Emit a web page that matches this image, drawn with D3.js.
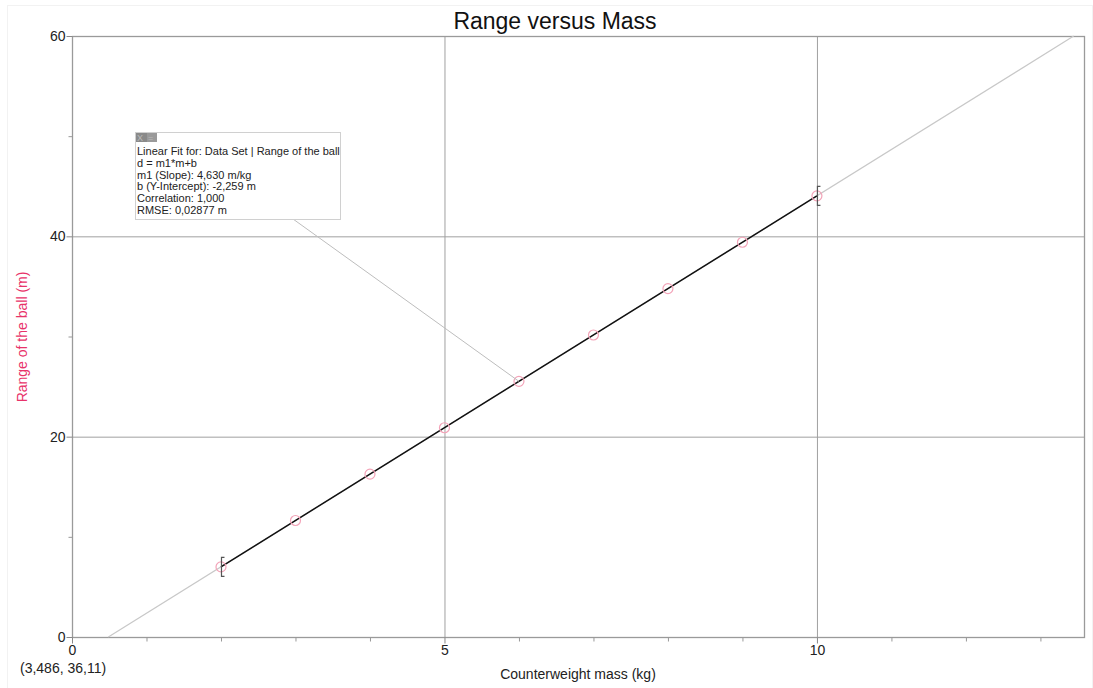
<!DOCTYPE html>
<html lang="en">
<head>
<meta charset="UTF-8"/>
<title>Range versus Mass</title>
<script src="https://d3js.org/d3.v7.min.js"></script>
<style>
    body { margin: 0; background: #fff; font-family: Arial, "Liberation Sans", sans-serif; }
    text { font-family: Arial, "Liberation Sans", sans-serif; }
</style>
</head>
<body>
<script>
    // data
    var mass = [2, 3, 4, 5, 6, 7, 8, 9, 10];
    var range = [7.0, 11.63, 16.26, 20.89, 25.52, 30.15, 34.78, 39.41, 44.04];
    var errMass = [2, 10];
    var errSize = 0.95;
    var slope = 4.630, intercept = -2.259;
    var xMajor = [0, 5, 10];
    var xMinor = [1, 2, 3, 4, 6, 7, 8, 9, 11, 12, 13];
    var yMajor = [0, 20, 40, 60];
    var yMinor = [10, 30, 50];
    var fitLines = ["Linear Fit for: Data Set | Range of the ball",
                    "d = m1*m+b",
                    "m1 (Slope): 4,630 m/kg",
                    "b (Y-Intercept): -2,259 m",
                    "Correlation: 1,000",
                    "RMSE: 0,02877 m"];

    var w = 1093, h = 688;
    var padL = 72, padR = 1084, padT = 36, padB = 637;

    var x = d3.scaleLinear().domain([0, 13.585]).range([padL, padR]);
    var y = d3.scaleLinear().domain([0, 60]).range([padB, padT]);

    var svg = d3.select("body").append("svg")
        .attr("width", w).attr("height", h);

    // faint page frame
    svg.append("rect").attr("x", 7.5).attr("y", 5.5).attr("width", w - 8).attr("height", h - 5)
        .attr("fill", "none").attr("stroke", "#f2f2f2");

    // title
    svg.append("text").attr("x", 555).attr("y", 29)
        .attr("text-anchor", "middle").attr("font-size", 23).attr("fill", "#111")
        .text("Range versus Mass");

    // gridlines
    svg.selectAll(".gx").data(xMajor.slice(1)).enter().append("line")
        .attr("x1", function(d){ return x(d) + 0.5; }).attr("x2", function(d){ return x(d) + 0.5; })
        .attr("y1", padT).attr("y2", padB)
        .attr("stroke", "#a0a0a0").attr("stroke-width", 1);
    svg.selectAll(".gy").data(yMajor.slice(1, 3)).enter().append("line")
        .attr("x1", padL).attr("x2", padR)
        .attr("y1", function(d){ return y(d) + 0.5; }).attr("y2", function(d){ return y(d) + 0.5; })
        .attr("stroke", "#a0a0a0").attr("stroke-width", 1);

    // frame
    svg.append("rect").attr("x", padL + 0.5).attr("y", padT + 0.5)
        .attr("width", padR - padL).attr("height", padB - padT)
        .attr("fill", "none").attr("stroke", "#9a9a9a").attr("stroke-width", 1.3);

    // axes
    var xAxis = d3.axisBottom(x).tickValues(xMajor).tickSize(6).tickFormat(d3.format("d"));
    var gx = svg.append("g").attr("transform", "translate(0," + (padB + 0.5) + ")").call(xAxis);
    gx.select(".domain").remove();
    gx.selectAll("line").attr("stroke", "#888");
    gx.selectAll("text").attr("font-size", 14).attr("fill", "#222").attr("y", 8);

    svg.append("g").attr("transform", "translate(0," + (padB + 0.5) + ")")
        .call(d3.axisBottom(x).tickValues(xMinor).tickSize(4).tickFormat(""))
        .call(function(g){ g.select(".domain").remove(); g.selectAll("line").attr("stroke", "#999"); });

    var yAxis = d3.axisLeft(y).tickValues(yMajor).tickSize(6).tickFormat(d3.format("d"));
    var gy = svg.append("g").attr("transform", "translate(" + (padL + 0.5) + ",0)").call(yAxis);
    gy.select(".domain").remove();
    gy.selectAll("line").attr("stroke", "#888");
    gy.selectAll("text").attr("font-size", 14).attr("fill", "#222").attr("x", -7);

    svg.append("g").attr("transform", "translate(" + (padL + 0.5) + ",0)")
        .call(d3.axisLeft(y).tickValues(yMinor).tickSize(4).tickFormat(""))
        .call(function(g){ g.select(".domain").remove(); g.selectAll("line").attr("stroke", "#999"); });

    // axis titles
    svg.append("text").attr("x", 578).attr("y", 679)
        .attr("text-anchor", "middle").attr("font-size", 14).attr("fill", "#222")
        .text("Counterweight mass (kg)");
    svg.append("text").attr("transform", "translate(27,337) rotate(-90)")
        .attr("text-anchor", "middle").attr("font-size", 14).attr("fill", "#e8336a")
        .text("Range of the ball (m)");
    svg.append("text").attr("x", 20).attr("y", 673)
        .attr("font-size", 14).attr("fill", "#222")
        .text("(3,486, 36,11)");

    // extended fit line (grey)
    var x0 = -intercept / slope, x1 = (60 - intercept) / slope;
    svg.append("line")
        .attr("x1", x(x0)).attr("y1", y(0)).attr("x2", x(x1)).attr("y2", y(60))
        .attr("stroke", "#c8c8c8").attr("stroke-width", 1.2);

    // fit line over data range (black)
    svg.append("line")
        .attr("x1", x(2)).attr("y1", y(slope * 2 + intercept))
        .attr("x2", x(10)).attr("y2", y(slope * 10 + intercept))
        .attr("stroke", "#111").attr("stroke-width", 1.5);

    // data points
    svg.selectAll(".pt").data(mass).enter().append("circle")
        .attr("cx", function(d){ return x(d); })
        .attr("cy", function(d, i){ return y(range[i]); })
        .attr("r", 5)
        .attr("fill", "none").attr("stroke", "#f3a3b8").attr("stroke-width", 1.2);

    // error brackets
    errMass.forEach(function(m){
        var v = range[mass.indexOf(m)];
        var px = x(m) + 0.5;
        var p = d3.path();
        p.moveTo(px + 3, y(v + errSize));
        p.lineTo(px, y(v + errSize));
        p.lineTo(px, y(v - errSize));
        p.lineTo(px + 3, y(v - errSize));
        svg.append("path").attr("d", p.toString())
            .attr("fill", "none").attr("stroke", "#555").attr("stroke-width", 1.2);
    });

    // annotation leader
    svg.append("line")
        .attr("x1", 293).attr("y1", 219).attr("x2", x(6)).attr("y2", y(range[4]))
        .attr("stroke", "#bdbdbd").attr("stroke-width", 1);

    // annotation box
    var bx = 135, by = 132, bw = 205, bh = 87;
    svg.append("rect").attr("x", bx + 0.5).attr("y", by + 0.5).attr("width", bw).attr("height", bh)
        .attr("fill", "#fff").attr("stroke", "#d0d0d0");
    svg.append("rect").attr("x", bx + 1).attr("y", by + 1).attr("width", 11).attr("height", 9).attr("fill", "#8a8a8a");
    svg.append("rect").attr("x", bx + 12).attr("y", by + 1).attr("width", 10).attr("height", 9).attr("fill", "#9a9a9a");
    svg.append("text").attr("x", bx + 2).attr("y", by + 9).attr("font-size", 9).attr("fill", "#bbb").text("X");
    svg.append("text").attr("x", bx + 13).attr("y", by + 9).attr("font-size", 9).attr("fill", "#bbb").text("=");
    svg.selectAll(".fit").data(fitLines).enter().append("text")
        .attr("x", bx + 2).attr("y", function(d, i){ return by + 23 + i * 11.8; })
        .attr("font-size", 11).attr("fill", "#222")
        .text(function(d){ return d; });
</script>
</body>
</html>
